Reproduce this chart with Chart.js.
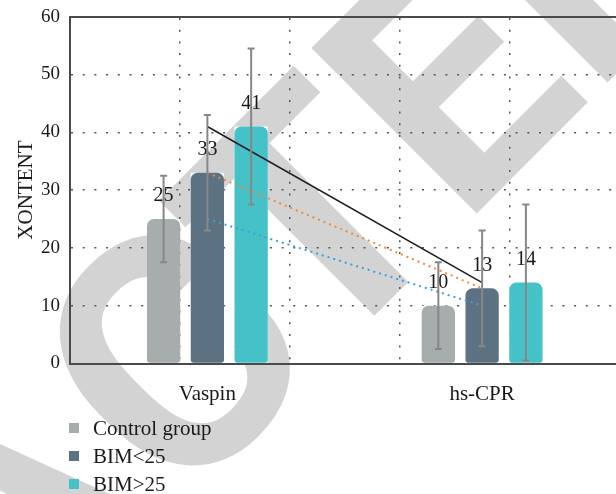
<!DOCTYPE html>
<html>
<head>
<meta charset="utf-8">
<script src="https://cdn.jsdelivr.net/npm/chart.js@4.4.1/dist/chart.umd.min.js"></script>
<style>
  html, body { margin: 0; padding: 0; background: #fff; width: 616px; height: 494px; overflow: hidden; }
  #wrap { position: relative; width: 624px; height: 494px; }
  canvas { display: block; }
  #legend { position: absolute; left: 69px; top: 414px; font-family: 'Liberation Serif', serif; font-size: 21px; color: #1a1a1a; }
  .item { display: flex; align-items: center; height: 28px; white-space: nowrap; }
  .sw { width: 10px; height: 10px; margin-right: 14px; flex: none; }
</style>
</head>
<body>
<div id="wrap">
  <canvas id="c" width="624" height="494"></canvas>
  <div id="legend"></div>
</div>
<script>
// Group means and standard deviations per marker
const categories = ['Vaspin', 'hs-CPR'];
const seriesNames = ['Control group', 'BIM<25', 'BIM>25'];
const controlMeans = [25, 10];
const bimUnderMeans = [33, 13];
const bimOverMeans = [41, 14];
const controlSD = [7.5, 7.5];
const bimUnderSD = [10, 10];
const bimOverSD = [13.5, 13.5];
const yTickValues = [0, 10, 20, 30, 40, 50, 60];
const stampText = 'RETRACTED';

const seriesColors = ['#a7acac', '#5c7282', '#44c2c8'];
const SERIF = "'Liberation Serif', 'Times New Roman', serif";
const TEXT = '#1a1a1a';
const AXIS = '#4a4a4a';
const DOTS = '#555';

// Light diagonal stamp behind the plot, laid out letter by letter
// along a baseline rotated 45 degrees
const stamp = {
  id: 'stamp',
  beforeDraw(chart) {
    const { ctx } = chart;
    ctx.save();
    ctx.fillStyle = '#fff';
    ctx.fillRect(0, 0, chart.width, chart.height);
    ctx.fillStyle = '#d3d3d3';
    ctx.font = "bold 329px Roboto, 'DejaVu Sans', sans-serif";
    ctx.textBaseline = 'alphabetic';
    ctx.rotate(-Math.PI / 4);
    const chars = [...stampText];
    const boxes = chars.map(ch => {
      const m = ctx.measureText(ch);
      return { l: m.actualBoundingBoxLeft, r: m.actualBoundingBoxRight, w: m.actualBoundingBoxLeft + m.actualBoundingBoxRight };
    });
    const gap = 22;
    const left = new Array(chars.length);     // glyph left edges along the baseline
    left[5] = -128.5 - boxes[5].w / 2;        // C
    left[6] = 66.7 - boxes[6].w / 2;          // T
    left[7] = 186;                            // E
    left[8] = 371;                            // D
    for (let i = 4; i >= 0; i--) left[i] = left[i + 1] - gap - boxes[i].w;
    chars.forEach((ch, i) => ctx.fillText(ch, left[i] + boxes[i].l, 488));
    ctx.restore();
  }
};

// White backing rectangle under each bar
const barBacking = {
  id: 'barBacking',
  beforeDatasetsDraw(chart) {
    const { ctx } = chart;
    ctx.save();
    ctx.fillStyle = '#fff';
    chart.data.datasets.forEach((ds, i) => {
      if (ds.type === 'line') return;
      chart.getDatasetMeta(i).data.forEach(bar => {
        const { x, y, base, width } = bar.getProps(['x', 'y', 'base', 'width'], true);
        ctx.fillRect(x - width / 2, y, width, base - y);
      });
    });
    ctx.restore();
  }
};

// Value labels and standard-deviation whiskers
const barExtras = {
  id: 'barExtras',
  afterDatasetsDraw(chart) {
    const { ctx } = chart;
    const yScale = chart.scales.y;
    ctx.save();
    ctx.font = '20px ' + SERIF;
    ctx.fillStyle = TEXT;
    ctx.textAlign = 'center';
    ctx.textBaseline = 'middle';
    chart.data.datasets.forEach((ds, i) => {
      if (ds.type === 'line') return;
      chart.getDatasetMeta(i).data.forEach((bar, j) => {
        ctx.fillText(String(ds.data[j]), bar.x, bar.y - 23);
      });
    });
    ctx.strokeStyle = '#878787';
    ctx.lineWidth = 2;
    chart.data.datasets.forEach((ds, i) => {
      if (!ds.sd) return;
      chart.getDatasetMeta(i).data.forEach((bar, j) => {
        const top = yScale.getPixelForValue(ds.data[j] + ds.sd[j]);
        const bot = yScale.getPixelForValue(ds.data[j] - ds.sd[j]);
        const x = bar.x;
        ctx.beginPath();
        ctx.moveTo(x, top); ctx.lineTo(x, bot);
        ctx.moveTo(x - 3.5, top); ctx.lineTo(x + 3.5, top);
        ctx.moveTo(x - 3.5, bot); ctx.lineTo(x + 3.5, bot);
        ctx.stroke();
      });
    });
    ctx.restore();
  }
};

function barSet(idx, data, sd) {
  return {
    type: 'bar',
    label: seriesNames[idx],
    data: data,
    sd: sd,
    backgroundColor: seriesColors[idx],
    borderWidth: 0,
    borderSkipped: false,
    borderRadius: { topLeft: 7, topRight: 7, bottomLeft: 3, bottomRight: 3 },
    categoryPercentage: 0.478,
    barPercentage: 0.76,
    order: 2
  };
}

function trendSet(data, color, width, dash) {
  return {
    type: 'line',
    data: data,
    borderColor: color,
    borderWidth: width,
    borderDash: dash,
    pointRadius: 0,
    fill: false,
    tension: 0,
    order: 1
  };
}

function build() {
  const chart = new Chart(document.getElementById('c'), {
    type: 'bar',
    data: {
      labels: categories,
      datasets: [
        barSet(0, controlMeans, controlSD),
        barSet(1, bimUnderMeans, bimUnderSD),
        barSet(2, bimOverMeans, bimOverSD),
        trendSet(controlMeans, '#3d9fdb', 2, [2, 4]),
        trendSet(bimUnderMeans, '#ef8a3e', 2, [2, 4]),
        trendSet(bimOverMeans, '#1c1c1c', 1.5, [])
      ]
    },
    options: {
      responsive: false,
      animation: false,
      events: [],
      layout: { padding: { top: 16.7, right: 4.5, left: 0, bottom: 0 } },
      plugins: { legend: { display: false }, tooltip: { enabled: false } },
      scales: {
        x: {
          type: 'category',
          offset: true,
          grid: { display: false },
          border: { display: true, color: AXIS, width: 2 },
          ticks: { font: { family: SERIF, size: 21 }, color: TEXT, padding: 10 },
          afterFit(s) { s.height = 130.5; }
        },
        x2: {
          type: 'linear',
          position: 'top',
          min: 0,
          max: categories.length * 2,
          ticks: { display: false, stepSize: 1 },
          grid: {
            color: c => (c.tick && c.tick.value === 0) ? 'rgba(0,0,0,0)' : DOTS,
            lineWidth: 1.5,
            drawTicks: false
          },
          border: { display: true, color: AXIS, width: 2, dash: [2, 9.7] },
          afterFit(s) { s.height = 0; }
        },
        y: {
          min: yTickValues[0],
          max: yTickValues[yTickValues.length - 1],
          afterBuildTicks(s) { s.ticks = yTickValues.map(v => ({ value: v })); },
          ticks: { font: { family: SERIF, size: 19 }, color: TEXT, padding: 10 },
          grid: {
            color: c => (c.tick && (c.tick.value === 0 || c.tick.value === 60)) ? 'rgba(0,0,0,0)' : DOTS,
            lineWidth: 1.5,
            drawTicks: false
          },
          border: { display: true, color: AXIS, width: 2, dash: [2, 9.7] },
          title: {
            display: true,
            text: 'XONTENT',
            font: { family: SERIF, size: 21 },
            color: TEXT,
            padding: { top: 14, bottom: 0 }
          },
          afterFit(s) {
            s.width = 70;
            s.paddingTop = 8;
            s.paddingBottom = 8;
          }
        }
      }
    },
    plugins: [stamp, barBacking, barExtras]
  });

  // Legend listing the three groups
  const legend = document.getElementById('legend');
  chart.data.datasets.slice(0, 3).forEach(ds => {
    const item = document.createElement('div');
    item.className = 'item';
    const sw = document.createElement('span');
    sw.className = 'sw';
    sw.style.background = ds.backgroundColor;
    const label = document.createElement('span');
    label.textContent = ds.label;
    item.appendChild(sw);
    item.appendChild(label);
    legend.appendChild(item);
  });
}

Promise.all([
  document.fonts.load("bold 329px Roboto"),
  document.fonts.load("20px 'Liberation Serif'")
]).catch(() => {}).then(build);
</script>
</body>
</html>
